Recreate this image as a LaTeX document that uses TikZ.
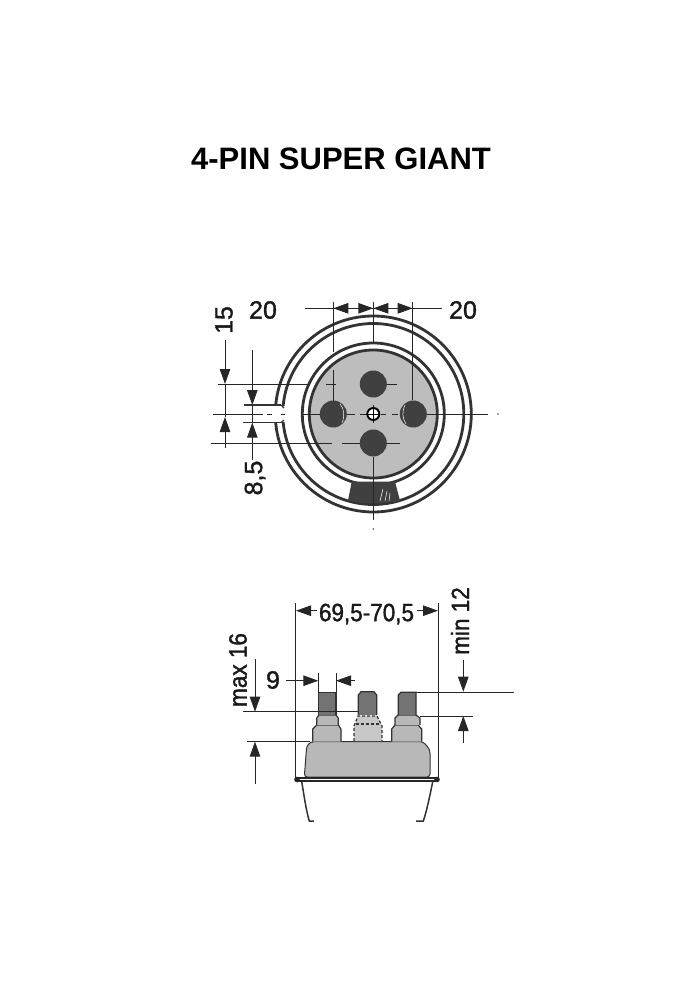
\documentclass[tikz,border=0pt]{standalone}
\usepackage{fontspec}
\setmainfont{Liberation Sans}
\newfontfamily\dimfont[FakeBold=1.4]{Liberation Sans}
\newfontfamily\dimnarrow[FakeBold=1.4,FakeStretch=0.9]{Liberation Sans}
\usetikzlibrary{arrows.meta}

\tikzset{
  dimline/.style={line width=0.9pt, black!85},
  dimarrow/.style={line width=1pt, black!85, -{Stealth[length=15pt,width=10.5pt,inset=0pt]}},
  ringline/.style={line width=2.8pt, black!80},
  pinfill/.style={fill=black!75, draw=none},
  dimtext/.style={font=\dimfont\fontsize{25}{27}\selectfont, text=black!90, inner sep=0pt},
  dimtight/.style={font=\dimnarrow\fontsize{25}{27}\selectfont, text=black!90, inner sep=0pt},
  outline/.style={line width=1.5pt, black!80},
}

\begin{document}
\begin{tikzpicture}[x=1pt,y=-1pt]
\useasboundingbox (0,0) rectangle (700,1000);

%% Title
\node[font=\bfseries\fontsize{31}{34}\selectfont, inner sep=0pt] (title) at (341,159) {4-PIN SUPER GIANT};

%% Rings of the top view
\draw[ringline] (373.3,414) circle (98);
\draw[ringline] (373.3,414) circle (90.5);
\draw[ringline] (373.3,414) circle (71);
\draw[ringline, fill=black!26] (373.3,414) circle (64);

%% Notch in the outer ring
\fill[white] (273,406) rectangle (285.5,422);
\draw[line width=1.2pt, black!80] (244,405)--(281,405) (243,422.7)--(281,422.7);
\draw[line width=1.2pt, black!80] (281,405)--(284,408) (281,422.7)--(284,420);

%% Wedge at the bottom
\fill[black!75] (351.7,481.7)--(395,481.7)--(400,500.5)
  .. controls (382,504.5) and (364,504.5) .. (348,500.5)--cycle;
\draw[white, line width=0.5pt] (383,489)--(380,501) (387,491)--(385,501) (390,493)--(389,501);

%% Centre lines
\draw[dimline] (213,414)--(263,414) (267,414)--(272,414) (281,414)--(285,414) (303,414)--(355,414)
  (360,414)--(366,414) (381,414)--(386,414) (392,414)--(398,414) (427,414)--(488,414);
\draw[dimline] (373.3,405)--(373.3,423) (373.3,457)--(373.3,520);
\node[circle, fill=black!70, inner sep=0.6pt] (topdotr) at (498,414) {};
\node[circle, fill=black!70, inner sep=0.6pt] (topdotb) at (373.3,529) {};

%% Extension lines top view
\draw[dimline] (333.3,301.7)--(333.3,351.7) (333.3,370)--(333.3,414);
\draw[dimline] (373.3,301.7)--(373.3,343.3);
\draw[dimline] (412.7,301.7)--(412.7,400);
\draw[dimline] (218.3,384)--(310,384) (326,384)--(336,384) (385,384)--(397,384);
\draw[dimline] (210.7,443.3)--(331.7,443.3) (342.3,443.3)--(400,443.3);

%% Pins
\node[circle, pinfill, minimum size=27pt, inner sep=0pt] (pintop) at (373.3,384) {};
\node[circle, pinfill, minimum size=27pt, inner sep=0pt] (pinbot) at (373.3,443) {};
\node[circle, pinfill, minimum size=27pt, inner sep=0pt] (pinleft) at (333.3,414) {};
\node[circle, pinfill, minimum size=27pt, inner sep=0pt] (pinright) at (413.3,414) {};
\draw[white, line width=0.5pt] (340,404) .. controls (344,408) and (345,416) .. (342,423);
\draw[white, line width=0.5pt] (405,405) .. controls (402,411) and (402,418) .. (406,424);
\node[circle, draw=black, line width=1.9pt, fill=white, minimum size=12pt, inner sep=0pt] (centre) at (373.3,414) {};
\draw[black, line width=0.9pt] (centre.west)--(centre.east) (centre.north)--(centre.south);

%% Dimensions top view
\draw[dimline] (305,308.3)--(441.7,308.3);
\draw[dimarrow] (353.3,308.3)--(333.3,308.3);
\draw[dimarrow] (360,308.3)--(373.3,308.3);
\draw[dimarrow] (393.3,308.3)--(373.3,308.3);
\draw[dimarrow] (397,308.3)--(412.7,308.3);
\draw[dimarrow] (225,340)--(225,384);
\draw[dimarrow] (225,448)--(225,417);
\draw[dimline] (225,384)--(225,417);
\draw[dimarrow] (252.3,350)--(252.3,405);
\draw[dimarrow] (252.3,460)--(252.3,422.7);
\draw[dimline] (252.3,405)--(252.3,422.7);

\node[dimtext] (lbltwentyl) at (263,310) {20};
\node[dimtext] (lbltwentyr) at (463,310) {20};
\node[dimtext, rotate=90] (lblfifteen) at (224,320) {15};
\node[dimtext, rotate=90] (lbleight) at (255,478) {8,5};

%% Side view: body and rim
\draw[line width=1pt, black!80, fill=black!28, rounded corners=3pt] (304.3,777)--(306.7,746)--(311,741.7)--(423.3,741.7)--(430,750)--(430,777)--cycle;
\draw[line width=2.5pt, black!85] (296,778)--(437.5,778);
\draw[line width=1.5pt, black!85] (296,781)--(437.5,781);
\node[circle, fill=black!85, inner sep=2pt] (rimleft) at (297,779.5) {};
\node[circle, fill=black!85, inner sep=2pt] (rimright) at (437,779.5) {};

%% Side view: legs
\draw[outline] (301.7,781.7) .. controls (304,795) and (306,810) .. (309.3,821)--(314,821);
\draw[outline] (432.7,781.7) .. controls (430,795) and (427,810) .. (423.3,821)--(416,821);

%% Side view: left pin
\draw[line width=1.2pt, black!80, fill=black!28] (312.7,741.7)--(312.7,729)--(316.7,725)--(338.3,725)--(341,729)--(341,741.7);
\draw[line width=1.2pt, black!80, fill=black!28] (316.7,725)--(316.7,718)--(319,715)--(336,715)--(338.3,718)--(338.3,725);
\draw[line width=1.2pt, black!80, fill=black!55] (318.3,715)--(318.3,692.3)--(336,692.3)--(336,715);

%% Side view: middle pin
\draw[line width=1.2pt, densely dashed, black!80, fill=black!22] (354,741)--(354,726)--(358,716)--(377,716)--(382,726)--(382,741);
\draw[line width=1.2pt, densely dashed, black!80] (356,724)--(380,724);
\draw[line width=1.2pt, black!80, fill=black!55] (358.3,715)--(358.3,695)--(361,691.7)--(374,691.7)--(376.7,695)--(376.7,715);

%% Side view: right pin
\draw[line width=1.2pt, black!80, fill=black!28] (391.7,741.7)--(391.7,729)--(395,725)--(418,725)--(421.7,729)--(421.7,741.7);
\draw[line width=1.2pt, black!80, fill=black!28] (395,725)--(395,718)--(398,715)--(416,715)--(420,718)--(420,725);
\draw[line width=1.2pt, black!80, fill=black!55] (398.3,715)--(398.3,695)--(401,692.3)--(416,692.3)--(416,715);

%% Dimensions side view
\draw[dimline] (295,603)--(295,778) (438.3,603)--(438.3,778);
\draw[dimarrow] (316.7,610.7)--(296,610.7);
\draw[dimarrow] (416.7,610.7)--(438,610.7);
\draw[dimline] (318.3,672.7)--(318.3,692) (336,672.7)--(336,692);
\draw[dimarrow] (286,680.7)--(318.3,680.7);
\draw[dimarrow] (355,680.7)--(336,680.7);
\draw[dimline] (243.3,711.7)--(358,711.7) (247.3,741.7)--(310,741.7);
\draw[dimarrow] (255,659.3)--(255,711.7);
\draw[dimarrow] (255,784)--(255,741.7);
\draw[dimline] (416,692.3)--(514,692.3) (420,716)--(473.3,716);
\draw[dimarrow] (463.3,660)--(463.3,691.7);
\draw[dimarrow] (463.3,743)--(463.3,716);

\node[dimtight] (lblwidth) at (366.5,614) {69,5-70,5};
\node[dimtight, rotate=90] (lblmin) at (460,621) {min 12};
\node[dimtight, rotate=90] (lblmax) at (238,670) {max 16};
\node[dimtext] (lblnine) at (273,680) {9};

\end{tikzpicture}
\end{document}
